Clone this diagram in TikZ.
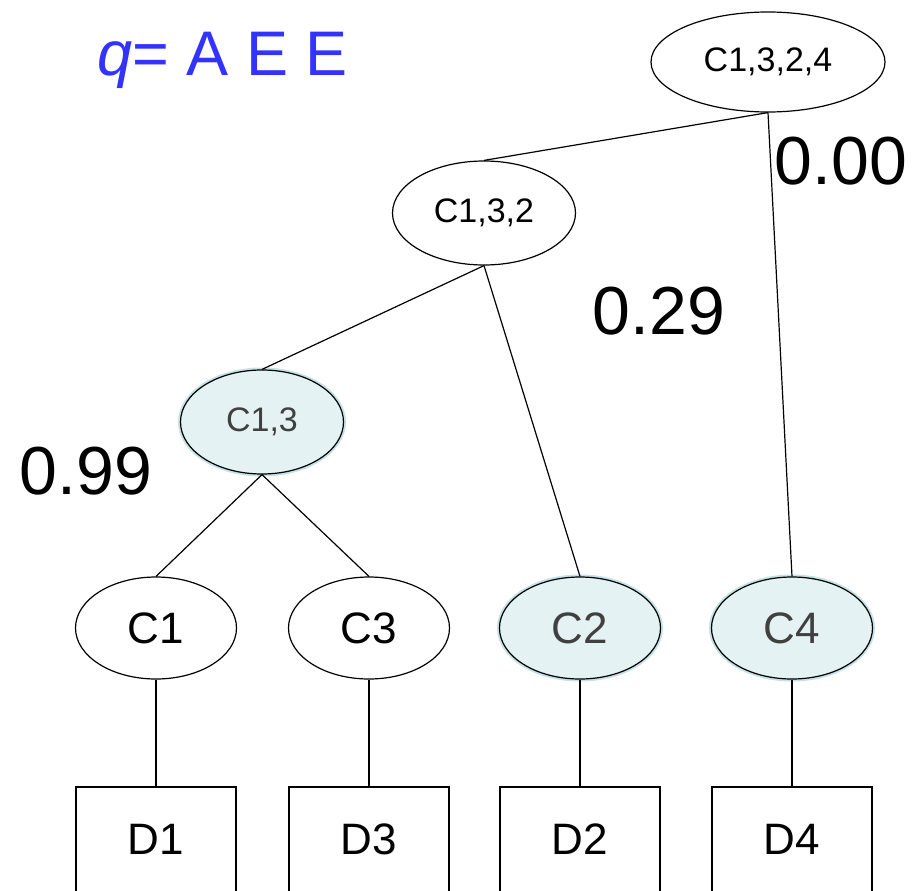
\documentclass[tikz,border=0pt]{standalone}
\usepackage{fontspec}
\setmainfont{Liberation Sans}
\usepackage{tikz}
\usetikzlibrary{shapes.geometric}

\definecolor{qblue}{RGB}{51,51,255}
\definecolor{shade}{RGB}{228,242,243}
\definecolor{halo}{RGB}{196,226,232}

\begin{document}
\begin{tikzpicture}[x=1pt, y=-1pt, line width=1.2pt,
  cluster/.style={ellipse, draw, inner sep=0pt, minimum width=161pt, minimum height=102pt, font=\fontsize{44}{44}\selectfont},
  merged/.style={cluster, font=\fontsize{34}{34}\selectfont},
  picked/.style={fill=shade, text=black!75, preaction={draw=halo, line width=5pt}},
  doc/.style={draw, inner sep=0pt, minimum width=160pt, text height=67pt, text depth=60pt, anchor=base, font=\fontsize{44}{44}\selectfont},
  score/.style={inner sep=0pt, anchor=west, font=\fontsize{68}{68}\selectfont}]
\clip (0,0) rectangle (918,891);
% query
\node[inner sep=0pt, anchor=base west, text=qblue, font=\fontsize{63}{63}\selectfont] at (97,75) (query) {\itshape q\upshape= A E E};
% hierarchy
\node[merged, minimum width=234pt, minimum height=100pt] at (768,62) (c1324) {C1,3,2,4};
\node[merged, minimum width=183pt, minimum height=104pt] at (484,213) (c132) {C1,3,2};
\node[merged, picked, minimum width=163pt, minimum height=104pt] at (262,422) (c13) {C1,3};
\node[cluster] at (156,628) (c1) {C1};
\node[cluster] at (369,628) (c3) {C3};
\node[cluster, picked] at (580,628) (c2) {C2};
\node[cluster, picked] at (792,628) (c4) {C4};
% documents
\node[doc] at (156,854) (d1) {D1};
\node[doc] at (369,854) (d3) {D3};
\node[doc] at (580,854) (d2) {D2};
\node[doc] at (792,854) (d4) {D4};
% scores
\node[score] at (774,161) (s0) {0.00};
\node[score] at (592,311) (s29) {0.29};
\node[score] at (19,471) (s99) {0.99};
% links
\draw (c1324.south) edge (c132.north);
\draw (c1324.south) edge (c4.north);
\draw (c132.south) edge (c13.north);
\draw (c132.south) edge (c2.north);
\draw (c13.south) edge (c1.north);
\draw (c13.south) edge (c3.north);
\draw (c1.south) edge (d1.north);
\draw (c3.south) edge (d3.north);
\draw (c2.south) edge (d2.north);
\draw (c4.south) edge (d4.north);
\end{tikzpicture}
\end{document}
